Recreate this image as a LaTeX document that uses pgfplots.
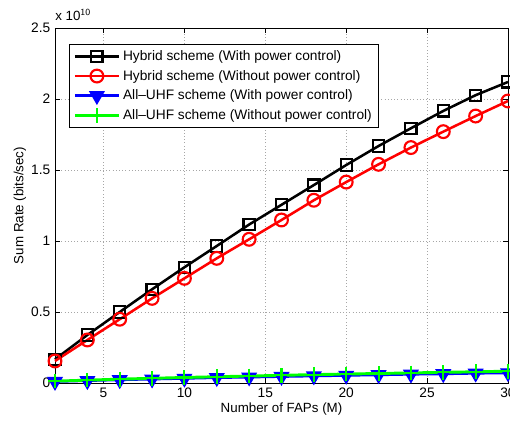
\documentclass[border=0pt]{standalone}
\usepackage{pgfplots}
\pgfplotsset{compat=1.18}
\usepackage{fontspec}
\setmainfont{Liberation Sans}
\begin{document}
\begin{tikzpicture}
\begin{axis}[
  scale only axis, width=339.75pt, height=266.25pt,
  xmin=2, xmax=30, ymin=0, ymax=2.5,
  xtick={5,10,...,30},
  ytick={0,0.5,1,1.5,2,2.5},
  yticklabels={0,0.5,1,1.5,2,2.5},
  xticklabels={5,10,15,20,25,30},
  tick align=inside,
  major tick length=4pt,
  tick style={black, line width=0.4pt},
  axis line style={black, line width=0.6pt},
  grid=major,
  grid style={dotted, gray!70, line width=0.5pt},
  /pgf/number format/assume math mode=true,
  tick label style={font=\fontsize{10.3}{12}\selectfont},
  label style={font=\fontsize{10}{12}\selectfont},
  xlabel={Number of FAPs (M)},
  ylabel={Sum Rate (bits/sec)},
  xlabel style={yshift=3pt},
  ylabel style={yshift=-3pt},
  legend cell align=left,
  legend style={at={(0.031,0.955)}, anchor=north west, draw=black, line width=0.6pt,
    font=\fontsize{10.3}{12}\selectfont, inner xsep=3pt, inner ysep=2.5pt, row sep=1.8pt},
  legend image code/.code={\draw[mark repeat=2,mark phase=2,#1] plot coordinates {(0pt,0pt) (16.5pt,0pt) (33pt,0pt)};},
  clip=false,
]
\addplot[black, line width=1.9pt, mark=square, mark size=4.2pt, mark options={line width=1.6pt}] coordinates {
(2,0.167) (4,0.338) (6,0.500) (8,0.660) (10,0.815) (12,0.965) (14,1.116) (16,1.255)
(18,1.394) (20,1.535) (22,1.669) (24,1.794) (26,1.916) (28,2.027) (30,2.120)};
\addlegendentry{Hybrid scheme (With power control)}
\addplot[red, line width=1.9pt, mark=o, mark size=4.8pt, mark options={line width=1.6pt}] coordinates {
(2,0.155) (4,0.303) (6,0.449) (8,0.596) (10,0.737) (12,0.878) (14,1.012) (16,1.148)
(18,1.287) (20,1.415) (22,1.540) (24,1.658) (26,1.770) (28,1.880) (30,1.986)};
\addlegendentry{Hybrid scheme (Without power control)}
\addplot[blue, line width=1.9pt, mark=triangle*, mark size=6pt, mark options={rotate=180, fill=blue, line width=1pt}] coordinates {
(2,0.010) (4,0.016) (6,0.022) (8,0.027) (10,0.032) (12,0.037) (14,0.041) (16,0.045)
(18,0.049) (20,0.053) (22,0.057) (24,0.061) (26,0.064) (28,0.068) (30,0.071)};
\addlegendentry{All--UHF scheme (With power control)}
\addplot[green, line width=2.2pt, mark=+, mark size=5.5pt, mark options={line width=1.6pt}] coordinates {
(2,0.013) (4,0.020) (6,0.027) (8,0.033) (10,0.039) (12,0.044) (14,0.049) (16,0.054)
(18,0.059) (20,0.063) (22,0.067) (24,0.071) (26,0.075) (28,0.079) (30,0.083)};
\addlegendentry{All--UHF scheme (Without power control)}
\coordinate (sw) at (rel axis cs:0,0);
\coordinate (ne) at (rel axis cs:1,1);
\node[anchor=base west, inner sep=0pt, font=\fontsize{10}{12}\selectfont] at ([yshift=6pt]rel axis cs:0,1) {x 10$^{\mathsf{10}}$};
\end{axis}
\pgfresetboundingbox
\useasboundingbox ([shift={(-41.25pt,-31.5pt)}]sw) rectangle ([shift={(1.5pt,21pt)}]ne);
\end{tikzpicture}
\end{document}
